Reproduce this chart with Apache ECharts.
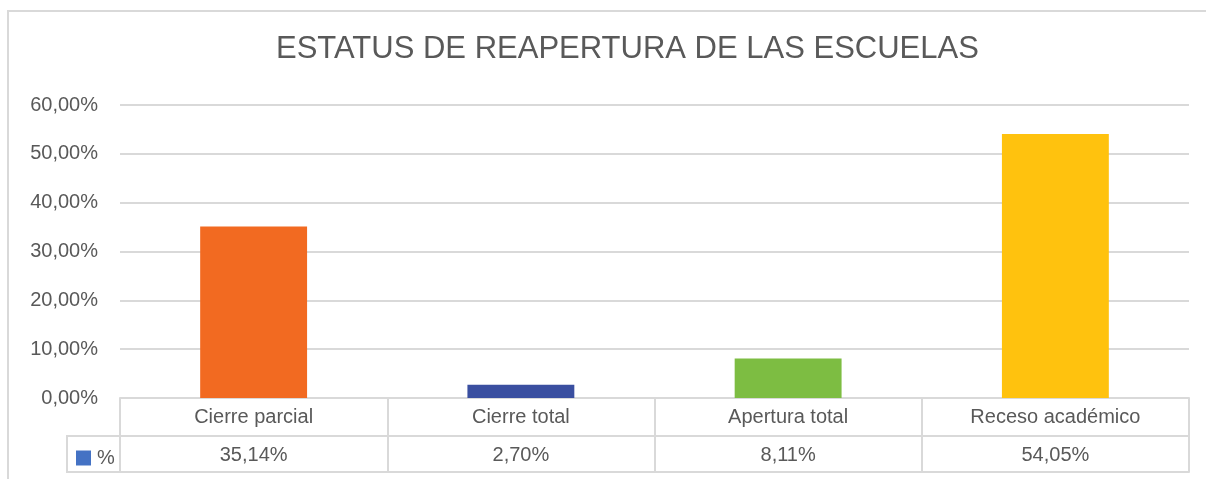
<!DOCTYPE html>
<html>
<head>
<meta charset="utf-8">
<script src="https://cdn.jsdelivr.net/npm/echarts@6/dist/echarts.min.js"></script>
<style>
html, body { margin: 0; padding: 0; background: #fff; }
#chartBar { width: 1206px; height: 479px; }
</style>
</head>
<body>
<div id="chartBar"></div>
<script>
// datos del gráfico
var categorias = ['Cierre parcial', 'Cierre total', 'Apertura total', 'Receso académico'];
var valores = [35.14, 2.70, 8.11, 54.05];
var colores = ['#F26A21', '#3A4FA0', '#7DBD42', '#FFC20E'];
var serieNombre = '%';

var gris = '#595959';
var linea = '#d9d9d9';
var fuente = '"Liberation Sans", Arial, sans-serif';

function pct(v) {
    return v.toFixed(2).replace('.', ',') + '%';
}

var myChart = echarts.init(document.getElementById('chartBar'));
var option = {
    backgroundColor: '#fff',
    textStyle: { fontFamily: fuente },
    title: {
        text: 'ESTATUS DE REAPERTURA DE LAS ESCUELAS',
        left: 271,
        top: 29,
        textStyle: {
            color: gris,
            fontSize: 31,
            fontWeight: 'normal',
            fontFamily: fuente
        }
    },
    legend: {
        data: [serieNombre],
        left: 71,
        top: 443,
        icon: 'rect',
        itemWidth: 15,
        itemHeight: 15,
        itemGap: 6,
        selectedMode: false,
        textStyle: { color: gris, fontSize: 20, fontFamily: fuente, padding: [0, 0, 0, 1] }
    },
    grid: {
        left: 120,
        right: 17,
        top: 105,
        bottom: 81
    },
    xAxis: [{
        type: 'category',
        data: categorias,
        axisLine: { show: true, lineStyle: { color: linea, width: 2 } },
        axisTick: { show: true, length: 74, lineStyle: { color: linea, width: 2 } },
        axisLabel: { color: gris, fontSize: 20, margin: 9, fontFamily: fuente }
    }, {
        type: 'category',
        position: 'bottom',
        offset: 38,
        data: valores.map(pct),
        axisLine: { show: true, lineStyle: { color: linea, width: 2 } },
        axisTick: { show: false },
        axisLabel: { color: gris, fontSize: 20, margin: 9, fontFamily: fuente }
    }, {
        type: 'category',
        position: 'bottom',
        offset: 74,
        data: categorias,
        axisLine: { show: true, lineStyle: { color: linea, width: 2 } },
        axisTick: { show: false },
        axisLabel: { show: false }
    }],
    yAxis: {
        type: 'value',
        min: 0,
        max: 60,
        interval: 10,
        axisLine: { show: false },
        axisTick: { show: false },
        splitLine: { lineStyle: { color: linea, width: 2 } },
        axisLabel: {
            color: gris,
            fontSize: 20,
            margin: 22,
            fontFamily: fuente,
            formatter: function (v) { return pct(v); }
        }
    },
    graphic: [
        // borde del gráfico
        { type: 'rect', shape: { x: 8, y: 11, width: 1400, height: 600 }, style: { fill: 'none', stroke: linea, lineWidth: 2 }, silent: true },
        // celda de leyenda de la tabla
        { type: 'line', shape: { x1: 67, y1: 436, x2: 120, y2: 436 }, style: { stroke: linea, lineWidth: 2 } },
        { type: 'line', shape: { x1: 67, y1: 472, x2: 120, y2: 472 }, style: { stroke: linea, lineWidth: 2 } },
        { type: 'line', shape: { x1: 67, y1: 435, x2: 67, y2: 473 }, style: { stroke: linea, lineWidth: 2 } }
    ],
    series: [{
        name: serieNombre,
        type: 'bar',
        barWidth: '40%',
        itemStyle: { color: '#4472C4' },
        data: valores.map(function (v, i) {
            return { value: v, itemStyle: { color: colores[i] } };
        })
    }]
};
myChart.setOption(option);
</script>
</body>
</html>
